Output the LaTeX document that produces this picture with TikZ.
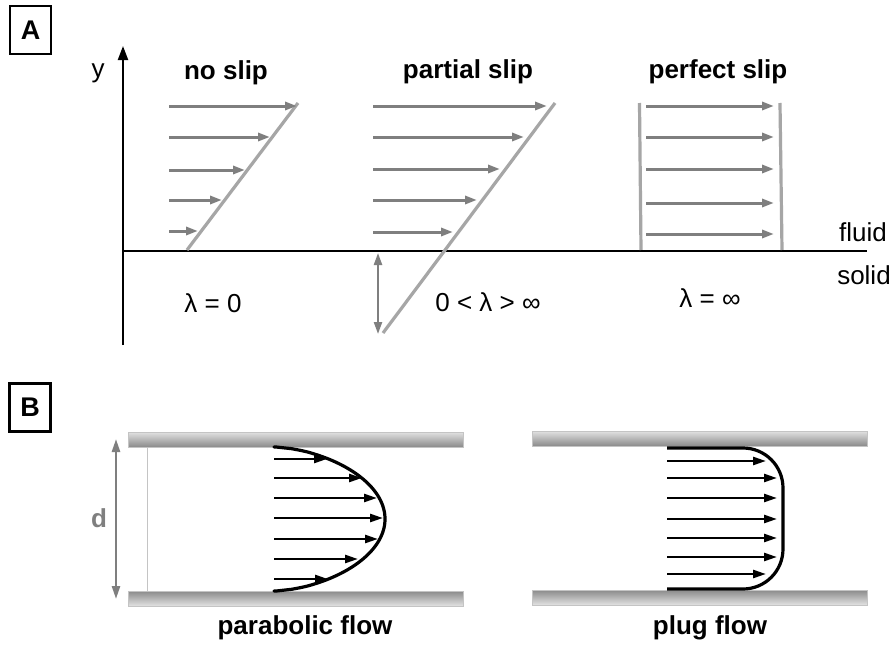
\documentclass[tikz,border=0pt]{standalone}
\usepackage{fontspec}
\setmainfont{Liberation Sans}
\usetikzlibrary{arrows.meta}
\definecolor{arrgray}{HTML}{7F7F7F}
\definecolor{linegray}{HTML}{A6A6A6}
\definecolor{platedark}{HTML}{8A8A8A}
\definecolor{platelight}{HTML}{E2E2E2}
\definecolor{plateedge}{HTML}{C4C4C4}
\begin{document}
\begin{tikzpicture}[x=1pt,y=-1pt,
  title/.style={font=\fontsize{26}{30}\selectfont\bfseries},
  lbl/.style={font=\fontsize{26}{30}\selectfont},
  panelbox/.style={draw=black,line width=2.5pt,minimum width=41pt,minimum height=48pt,inner sep=0pt,font=\fontsize{27}{30}\selectfont\bfseries},
  garrow/.style={draw=arrgray,line width=3pt,-{Triangle[length=12pt,width=8pt]}},
  slipline/.style={draw=linegray,line width=3.2pt},
  axis/.style={draw=black,line width=2.2pt},
  barrow/.style={draw=black,line width=2.5pt,-{Triangle[length=13pt,width=8pt]}},
  profile/.style={draw=black,line width=3.2pt},
  dim/.style={draw=arrgray,line width=2.5pt,{Triangle[length=13pt,width=8pt]}-{Triangle[length=13pt,width=8pt]}},
  topplate/.style={draw=plateedge,line width=1pt,top color=platelight,bottom color=platedark},
  botplate/.style={draw=plateedge,line width=1pt,top color=platedark,bottom color=platelight}
]
\useasboundingbox[fill=white] (0,0) rectangle (895,645);

% ---------- Panel A ----------
\node[panelbox] (boxA) at (30.5,30) {A};
\coordinate (yb) at (123,345);
\coordinate (yt) at (123,46);
\draw[axis,-{Triangle[length=14pt,width=10pt]}] (yb) -- (yt);
\coordinate (xl) at (123,251);
\coordinate (xr) at (867,251);
\draw[axis] (xl) -- (xr);
\node[lbl] (ylab) at (98,73) {y};
\node[lbl] (fluid) at (863,232) {fluid};
\node[lbl] (solid) at (864,275) {solid};

% no slip
\node[title] (noslip) at (226,73) {no slip};
\coordinate (ns1) at (187,250);
\coordinate (ns2) at (298,103);
\draw[slipline] (ns1) -- (ns2);
\foreach \yy/\tx in {106/297,137/270,170/245,200/222,231/198}{
  \draw[garrow] (169,\yy) -- (\tx,\yy);
}
\node[lbl] (lam0) at (213,303) {λ = 0};

% partial slip
\node[title] (pslip) at (468,72) {partial slip};
\coordinate (ps1) at (383,333);
\coordinate (ps2) at (555,103);
\draw[slipline] (ps1) -- (ps2);
\foreach \yy/\tx in {106/547,137/524,169/500,200/477,232/453}{
  \draw[garrow] (373,\yy) -- (\tx,\yy);
}
\coordinate (da) at (378,253);
\coordinate (db) at (378,334);
\draw[draw=arrgray,line width=2.2pt,{Triangle[length=12pt,width=8pt]}-{Triangle[length=12pt,width=8pt]}] (da) -- (db);
\node[lbl] (lampart) at (488,302) {0 < λ > ∞};

% perfect slip
\node[title] (pfslip) at (718,72) {perfect slip};
\draw[slipline] (639.5,103) -- (641,250);
\draw[slipline] (780,103) -- (782,250);
\foreach \yy in {106,137,169,203,234}{
  \draw[garrow] (646,\yy) -- (774,\yy);
}
\node[lbl] (laminf) at (710,298) {λ = ∞};

% ---------- Panel B ----------
\node[panelbox] (boxB) at (30,407.5) {B};

% parabolic
\draw[topplate] (128,432) rectangle (463,447);
\draw[botplate] (128,591) rectangle (463,606);
\draw[draw=plateedge,line width=1pt] (147,447) -- (147,591);
\coordinate (d1) at (116,439);
\coordinate (d2) at (116,599);
\draw[dim] (d1) -- (d2);
\node[font=\fontsize{26}{30}\selectfont\bfseries,text=arrgray] (dlab) at (99,518) {d};
\foreach \yy/\tx in {459/327,478/362,498/377,518/383,539/378,559/358,579/328}{
  \draw[barrow] (274,\yy) -- (\tx,\yy);
}
\draw[profile,line cap=round] (274,447) -- plot[domain=-0.999:0.999,samples=90] ({274+111*(max(1-\x*\x,0.000001))^0.6},{519+72*\x}) -- (274,591);
\node[title] (parab) at (305,628) {parabolic flow};

% plug
\draw[topplate] (532,431) rectangle (867,446);
\draw[botplate] (532,590) rectangle (867,605);
\foreach \yy/\tx in {461/766,478/777,498/777,519/777,538/777,557/777,574/766}{
  \draw[barrow] (667,\yy) -- (\tx,\yy);
}
\draw[profile,rounded corners=40pt] (667,448) -- (783,448) -- (783,589) -- (667,589);
\node[title] (plug) at (710,628) {plug flow};
\end{tikzpicture}
\end{document}
